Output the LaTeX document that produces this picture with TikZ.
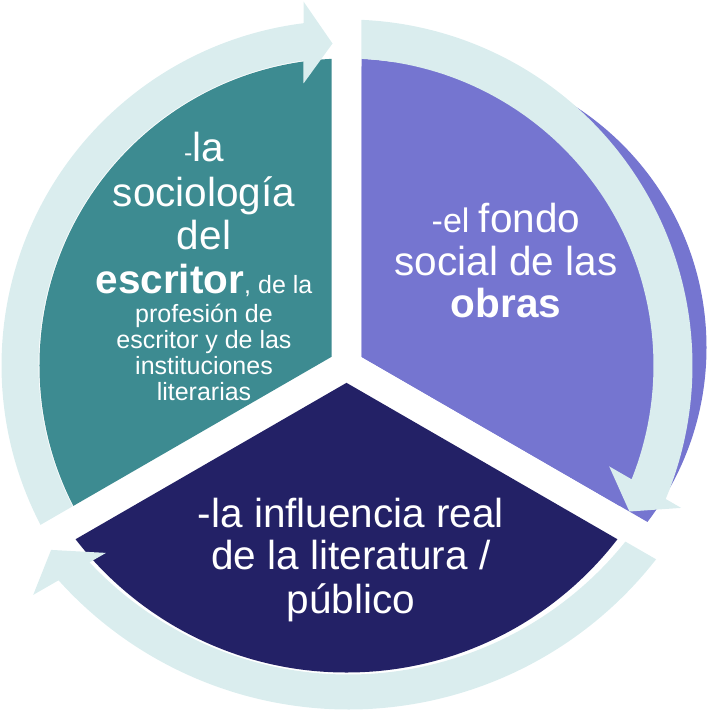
\documentclass[tikz,border=0pt]{standalone}
\usepackage{fontspec}
\setmainfont{Liberation Sans}
\usetikzlibrary{calc}
\definecolor{tealseg}{HTML}{3D8B91}
\definecolor{purpleseg}{HTML}{7575D0}
\definecolor{navyseg}{HTML}{232166}
\definecolor{ringc}{HTML}{DAEDEE}
\newcommand\fbig{\fontsize{40.5}{44}\selectfont}
\newcommand\fsmall{\fontsize{25}{28}\selectfont}
\tikzset{
  segtext/.style={text=white, anchor=base, inner sep=0pt},
  ringarrow/.style={fill=ringc},
}
\begin{document}
\begin{tikzpicture}[x=1pt,y=1pt]
\useasboundingbox (-346.5,-344.5) rectangle (364.5,365.5);
% teal segment
\begin{scope}
\clip (-15,8.66) -- +(90:800) -- +(150:800) -- +(210:800) -- cycle;
\fill[tealseg] (0,0) circle[radius=307];
\end{scope}
% purple segment
\begin{scope}
\clip (15,8.66) -- +(90:800) -- +(30:800) -- +(-30:800) -- cycle;
\fill[purpleseg] (0,0) circle[radius=307];
\fill[purpleseg] (73,18) circle[radius=287];
\end{scope}
% navy segment
\begin{scope}
\clip (0,-17.32) -- +(210:800) -- +(270:800) -- +(330:800) -- cycle;
\fill[navyseg] (0,35) circle[radius=342];
\end{scope}
% circular arrows
\fill[ringarrow] (207.21:308) arc[start angle=207.21, end angle=98.03, radius=308]
  -- (-43,282) -- (-14,322) -- (-43,364)
  -- (97.16:345) arc[start angle=97.16, end angle=207.51, radius=345] -- cycle;
\fill[ringarrow] (87.52:346) -- (87.2:307) arc[start angle=87.2, end angle=-21.76, radius=307]
  -- (262.7,-100.9) -- (282.9,-146) -- (334.6,-142.4)
  -- (-22.69:346) arc[start angle=-22.69, end angle=87.52, radius=346] -- cycle;
\fill[ringarrow] ($(2,46)+(-38.73:355)$) arc[start angle=-38.73, end angle=-136.84, radius=355]
  -- (-240.5,-187.4) -- (-295.4,-184.4) -- (-313.3,-229.4)
  -- ($(2,46)+(-138.03:390)$) arc[start angle=-138.03, end angle=-37.94, radius=390] -- cycle;
% teal text
\node[segtext] (t1) at (-142.5,203.7) {\fbig{\fsmall -}la};
\node[segtext] (t2) at (-142.5,159.5) {\fbig sociología};
\node[segtext] (t3) at (-142.5,115.7) {\fbig del};
\node[segtext] (t4) at (-142.5,72.5) {\fbig\bfseries escritor\fsmall\mdseries, de la};
\node[segtext] (t5) at (-142.5,42.8) {\fsmall profesión de};
\node[segtext] (t6) at (-142.5,16.8) {\fsmall escritor y de las};
\node[segtext] (t7) at (-142.5,-9.1) {\fsmall instituciones};
\node[segtext] (t8) at (-142.5,-34.7) {\fsmall literarias};
% purple text
\node[segtext] (p1) at (159.5,133) {{\fontsize{34}{38}\selectfont -el }\fbig fondo};
\node[segtext] (p2) at (159.5,89.8) {\fbig social de las};
\node[segtext] (p3) at (159.5,47.8) {\fbig\bfseries obras};
% navy text
\node[segtext] (n1) at (4.5,-162.3) {\fbig -la influencia real};
\node[segtext] (n2) at (4.5,-204.2) {\fbig de la literatura /};
\node[segtext] (n3) at (4.5,-247.5) {\fbig público};
\end{tikzpicture}
\end{document}
